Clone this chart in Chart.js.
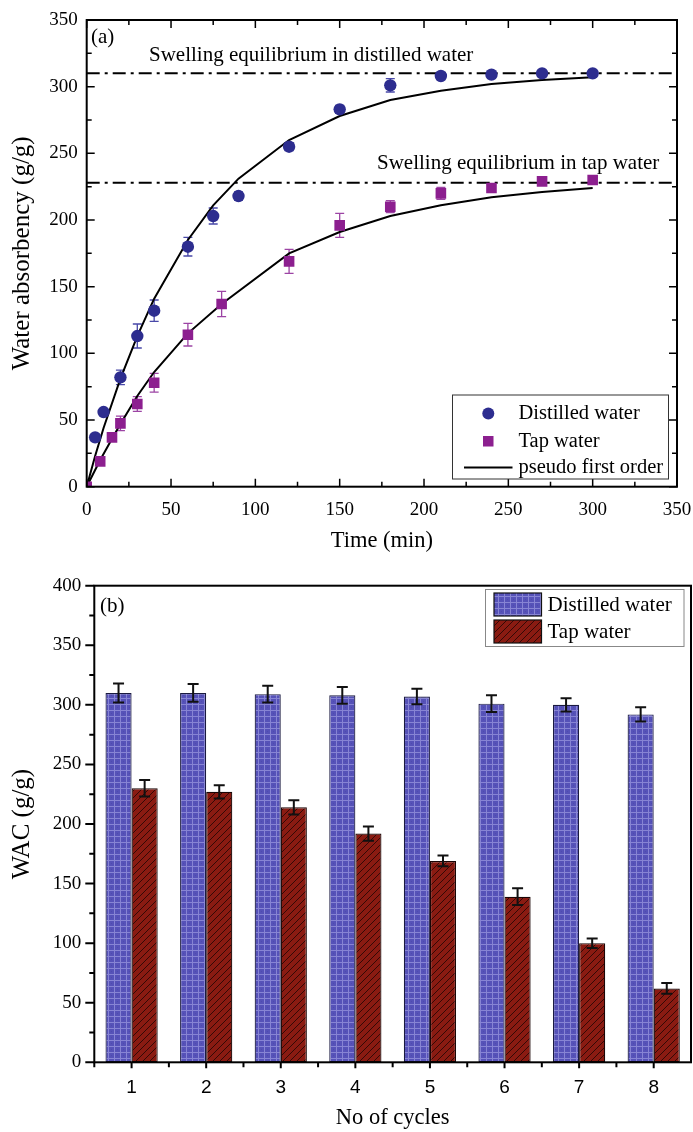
<!DOCTYPE html>
<html><head><meta charset="utf-8">
<script src="https://cdn.jsdelivr.net/npm/chart.js@4.4.1/dist/chart.umd.min.js"></script>
<style>
html,body{margin:0;padding:0;background:#fff;width:693px;height:1132px;overflow:hidden}
#w1{position:absolute;left:0;top:0;width:693px;height:560px}
#w2{position:absolute;left:0;top:560px;width:693px;height:572px}
</style></head><body>
<div id="w1"><canvas id="c1"></canvas></div>
<div id="w2"><canvas id="c2"></canvas></div>
<script>
// ---------- Panel (a) data ----------
const timeDistilled = [5, 10, 20, 30, 40, 60, 75, 90, 120, 150, 180, 210, 240, 270, 300];
const absDistilled  = [37, 56, 82, 113, 132, 180, 203, 218, 255, 283, 301, 308, 309, 310, 310];
const errDistilled  = [0, 0, 5.5, 9, 8, 7, 6, 3, 3, 3, 5, 2, 2, 2, 2];
const timeTap = [0, 8, 15, 20, 30, 40, 60, 80, 120, 150, 180, 210, 240, 270, 300];
const absTap  = [0, 19, 37, 47.5, 62, 78, 114, 137, 169, 196, 210, 220, 224, 229, 230];
const errTap  = [0, 0, 0, 5.5, 5.5, 7, 8.5, 9.5, 9, 9, 4.5, 4.5, 3, 2, 2];
const fitTimeDistilled = [0, 5, 10, 20, 30, 40, 60, 75, 90, 120, 150, 180, 210, 240, 270, 300];
const fitDistilled     = [0, 23, 44, 81, 113, 141, 185, 211, 231, 260, 278, 290, 297, 302, 305, 307];
const fitTimeTap = [0, 8, 15, 20, 30, 40, 60, 80, 120, 150, 180, 210, 240, 270, 300];
const fitTap     = [0, 20, 36, 47, 68, 86, 115, 137, 175, 191, 203, 211, 217, 221, 224];
const eqDistilled = 310;
const eqTap = 228;
const timeTicks = [0, 50, 100, 150, 200, 250, 300, 350];
const absTicks  = [0, 50, 100, 150, 200, 250, 300, 350];

// ---------- Panel (b) data ----------
const cycles = ['1', '2', '3', '4', '5', '6', '7', '8'];
const wacDistilled = [310, 310, 309, 308, 307, 301, 300, 292];
const wacDistErr   = [8, 7.5, 7, 7, 6.5, 7, 5.5, 6];
const wacTap       = [230, 227, 214, 192, 169, 139, 100, 62];
const wacTapErr    = [7, 5.5, 6, 6, 4.5, 7, 4, 4.5];
const wacTicks = [0, 50, 100, 150, 200, 250, 300, 350, 400];

const SERIF = '"Liberation Serif", "Times New Roman", serif';
const SANS = '"Liberation Sans", Arial, sans-serif';
const C_DIST = '#2d2d8f';
const C_TAP = '#8c1f8f';

function pts(xs, ys){ return xs.map((x,i)=>({x:x, y:ys[i]})); }

// ---------- patterns ----------
function bluePattern(){
  const c = document.createElement('canvas'); c.width = 6; c.height = 6;
  const g = c.getContext('2d');
  g.fillStyle = '#5652b8'; g.fillRect(0,0,6,6);
  g.fillStyle = '#8784d4'; g.fillRect(0,0,6,1); g.fillRect(0,0,1,6);
  g.fillStyle = '#4e4aae'; g.fillRect(3,3,1,1);
  return g.createPattern(c, 'repeat');
}
function redPattern(){
  const n = 7;
  const c = document.createElement('canvas'); c.width = n; c.height = n;
  const g = c.getContext('2d');
  g.fillStyle = '#8a1b12'; g.fillRect(0,0,n,n);
  g.strokeStyle = '#2a0806'; g.lineWidth = 0.9;
  g.beginPath();
  g.moveTo(-1,n+1); g.lineTo(n+1,-1);
  g.moveTo(-1,1); g.lineTo(1,-1);
  g.moveTo(n-1,n+1); g.lineTo(n+1,n-1);
  g.stroke();
  return g.createPattern(c, 'repeat');
}
const patBlue = bluePattern();
const patRed = redPattern();

// ---------- Panel (a) plugin ----------
const panelA = {
  id: 'panelA',
  beforeDatasetsDraw(chart){
    const ctx = chart.ctx, xs = chart.scales.x, ys = chart.scales.y;
    function eb(tx, vy, er, col){
      ctx.save(); ctx.strokeStyle = col; ctx.lineWidth = 1.3;
      for (let i=0;i<tx.length;i++){
        if (!er[i]) continue;
        const px = xs.getPixelForValue(tx[i]);
        const y1 = ys.getPixelForValue(vy[i]-er[i]);
        const y2 = ys.getPixelForValue(vy[i]+er[i]);
        ctx.beginPath();
        ctx.moveTo(px,y1); ctx.lineTo(px,y2);
        ctx.moveTo(px-4.5,y1); ctx.lineTo(px+4.5,y1);
        ctx.moveTo(px-4.5,y2); ctx.lineTo(px+4.5,y2);
        ctx.stroke();
      }
      ctx.restore();
    }
    eb(timeDistilled, absDistilled, errDistilled, '#4848a8');
    eb(timeTap, absTap, errTap, '#9c44a4');
  },
  afterDatasetsDraw(chart){
    const ctx = chart.ctx, a = chart.chartArea, xs = chart.scales.x, ys = chart.scales.y;
    ctx.save();
    // frame
    ctx.strokeStyle = '#000'; ctx.lineWidth = 2;
    ctx.strokeRect(a.left, a.top, a.right-a.left, a.bottom-a.top);
    // inward ticks on all four sides
    ctx.lineWidth = 1.5;
    ctx.beginPath();
    for (let v=0; v<=350; v+=25){
      const major = v % 50 === 0;
      const px = xs.getPixelForValue(v);
      const lx = major ? 8 : 5;
      ctx.moveTo(px, a.bottom); ctx.lineTo(px, a.bottom-lx);
      ctx.moveTo(px, a.top); ctx.lineTo(px, a.top+lx);
      const py = ys.getPixelForValue(v);
      ctx.moveTo(a.left, py); ctx.lineTo(a.left+lx, py);
      ctx.moveTo(a.right, py); ctx.lineTo(a.right-lx, py);
    }
    ctx.stroke();
    // texts
    ctx.fillStyle = '#000';
    ctx.font = '21px ' + SERIF;
    ctx.textBaseline = 'alphabetic';
    ctx.textAlign = 'left';
    ctx.fillText('(a)', 91, 43);
    ctx.fillText('Swelling equilibrium in distilled water', 149, 61);
    ctx.fillText('Swelling equilibrium in tap water', 377, 169);
    // legend
    ctx.lineWidth = 1; ctx.strokeStyle = '#333';
    ctx.fillStyle = '#fff';
    ctx.fillRect(452.5, 395, 216, 84);
    ctx.strokeRect(452.5, 395, 216, 84);
    ctx.fillStyle = C_DIST;
    ctx.beginPath(); ctx.arc(488.3, 413.5, 6, 0, Math.PI*2); ctx.fill();
    ctx.fillStyle = C_TAP;
    ctx.fillRect(483, 436, 10.5, 10.5);
    ctx.strokeStyle = '#000'; ctx.lineWidth = 2;
    ctx.beginPath(); ctx.moveTo(464, 467.5); ctx.lineTo(512.5, 467.5); ctx.stroke();
    ctx.fillStyle = '#000';
    ctx.font = '20.5px ' + SERIF;
    ctx.textBaseline = 'middle';
    ctx.fillText('Distilled water', 518.5, 414);
    ctx.fillText('Tap water', 518.5, 441.5);
    ctx.fillText('pseudo first order', 518.5, 468);
    ctx.restore();
  }
};

new Chart(document.getElementById('c1'), {
  type: 'scatter',
  data: {
    datasets: [
      { label: 'eqD', type: 'line', data: [{x:0,y:eqDistilled},{x:350,y:eqDistilled}],
        borderColor: '#000', borderWidth: 2, borderDash: [13,5,3,5], pointRadius: 0, fill: false, order: 5 },
      { label: 'eqT', type: 'line', data: [{x:0,y:eqTap},{x:350,y:eqTap}],
        borderColor: '#000', borderWidth: 2, borderDash: [13,5,3,5], pointRadius: 0, fill: false, order: 5 },
      { label: 'fitD', type: 'line', data: pts(fitTimeDistilled, fitDistilled),
        borderColor: '#000', borderWidth: 2, pointRadius: 0, tension: 0, fill: false, order: 4 },
      { label: 'fitT', type: 'line', data: pts(fitTimeTap, fitTap),
        borderColor: '#000', borderWidth: 2, pointRadius: 0, tension: 0, fill: false, order: 4 },
      { label: 'Distilled water', data: pts(timeDistilled, absDistilled),
        pointStyle: 'circle', pointRadius: 6.2, pointBackgroundColor: C_DIST, pointBorderColor: C_DIST, pointBorderWidth: 0, order: 1 },
      { label: 'Tap water', data: pts(timeTap, absTap),
        pointStyle: 'rect', pointRadius: 7.5, pointBackgroundColor: C_TAP, pointBorderColor: C_TAP, pointBorderWidth: 0, order: 1 }
    ]
  },
  options: {
    responsive: true, maintainAspectRatio: false, animation: false,
    layout: { padding: { top: 20, right: 16, left: 0, bottom: 0 } },
    plugins: { legend: { display: false }, tooltip: { enabled: false } },
    scales: {
      x: {
        type: 'linear', min: 0, max: 350,
        afterFit(s){ s.height = 73.3; s.paddingLeft = 0; s.paddingRight = 0; },
        afterBuildTicks(s){ s.ticks = timeTicks.map(v=>({value:v})); },
        grid: { display: false, drawTicks: false },
        border: { display: false },
        ticks: { font: { family: SERIF, size: 19 }, color: '#000', padding: 12, maxRotation: 0 },
        title: { display: true, text: 'Time (min)', font: { family: SERIF, size: 22.5 }, color: '#000', padding: { top: 0, bottom: 5 } }
      },
      y: {
        type: 'linear', min: 0, max: 350,
        afterFit(s){ s.width = 86.7; s.paddingTop = 0; s.paddingBottom = 0; },
        afterBuildTicks(s){ s.ticks = absTicks.map(v=>({value:v})); },
        grid: { display: false, drawTicks: false },
        border: { display: false },
        ticks: { font: { family: SERIF, size: 19 }, color: '#000', padding: 9 },
        title: { display: true, text: 'Water absorbency (g/g)', font: { family: SERIF, size: 25 }, color: '#000', padding: { top: 7, bottom: 0 } }
      }
    }
  },
  plugins: [panelA]
});

// ---------- Panel (b) plugin ----------
const panelB = {
  id: 'panelB',
  afterDatasetsDraw(chart){
    const ctx = chart.ctx, a = chart.chartArea, ys = chart.scales.y;
    ctx.save();
    // error bars
    ctx.strokeStyle = '#111'; ctx.lineWidth = 2;
    const sets = [[0, wacDistilled, wacDistErr], [1, wacTap, wacTapErr]];
    sets.forEach(([di, vals, errs]) => {
      const meta = chart.getDatasetMeta(di);
      meta.data.forEach((bar, i) => {
        const px = bar.x;
        const y1 = ys.getPixelForValue(vals[i]-errs[i]);
        const y2 = ys.getPixelForValue(vals[i]+errs[i]);
        ctx.beginPath();
        ctx.moveTo(px,y1); ctx.lineTo(px,y2);
        ctx.moveTo(px-5.5,y1); ctx.lineTo(px+5.5,y1);
        ctx.moveTo(px-5.5,y2); ctx.lineTo(px+5.5,y2);
        ctx.stroke();
      });
    });
    // frame
    ctx.strokeStyle = '#000'; ctx.lineWidth = 2;
    ctx.strokeRect(a.left, a.top, a.right-a.left, a.bottom-a.top);
    // outward ticks
    ctx.beginPath();
    for (let v=0; v<=400; v+=25){
      const py = ys.getPixelForValue(v);
      const l = v % 50 === 0 ? 9 : 5;
      ctx.moveTo(a.left, py); ctx.lineTo(a.left-l, py);
    }
    const xs = chart.scales.x;
    for (let i=0;i<cycles.length;i++){
      const px = xs.getPixelForValue(i);
      ctx.moveTo(px, a.bottom); ctx.lineTo(px, a.bottom+6);
      const pm = xs.getPixelForValue(i-0.5);
      ctx.moveTo(pm, a.bottom); ctx.lineTo(pm, a.bottom+5);
    }
    ctx.stroke();
    // label
    ctx.fillStyle = '#000';
    ctx.font = '21px ' + SERIF;
    ctx.textBaseline = 'alphabetic';
    ctx.fillText('(b)', 100, 52);
    // legend
    ctx.fillStyle = '#fff';
    ctx.fillRect(485.5, 29.5, 198.5, 57);
    ctx.strokeStyle = '#888'; ctx.lineWidth = 1;
    ctx.strokeRect(485.5, 29.5, 198.5, 57);
    ctx.fillStyle = patBlue; ctx.fillRect(494, 33, 47.5, 23);
    ctx.fillStyle = patRed; ctx.fillRect(494, 60, 47.5, 23);
    ctx.strokeStyle = '#111'; ctx.lineWidth = 1.2;
    ctx.strokeRect(494, 33, 47.5, 23);
    ctx.strokeRect(494, 60, 47.5, 23);
    ctx.fillStyle = '#000';
    ctx.font = '21px ' + SERIF;
    ctx.textBaseline = 'middle';
    ctx.fillText('Distilled water', 547.5, 45);
    ctx.fillText('Tap water', 547.5, 72.5);
    ctx.restore();
  }
};

new Chart(document.getElementById('c2'), {
  type: 'bar',
  data: {
    labels: cycles,
    datasets: [
      { label: 'Distilled water', data: wacDistilled, backgroundColor: patBlue, borderColor: '#1a1a40', borderWidth: 1.2, borderSkipped: false },
      { label: 'Tap water', data: wacTap, backgroundColor: patRed, borderColor: '#1a0505', borderWidth: 1.2, borderSkipped: false }
    ]
  },
  options: {
    responsive: true, maintainAspectRatio: false, animation: false,
    layout: { padding: { top: 25.7, right: 2, left: 0, bottom: 0 } },
    plugins: { legend: { display: false }, tooltip: { enabled: false } },
    datasets: { bar: { categoryPercentage: 0.7, barPercentage: 1.0 } },
    scales: {
      x: {
        offset: true,
        afterFit(s){ s.height = 69.7; },
        grid: { display: false, drawTicks: false },
        border: { display: false },
        ticks: { font: { family: SANS, size: 19 }, color: '#000', padding: 14, maxRotation: 0 },
        title: { display: true, text: 'No of cycles', font: { family: SERIF, size: 22.5 }, color: '#000', padding: { top: 0, bottom: 0 } }
      },
      y: {
        min: 0, max: 400,
        afterFit(s){ s.width = 94.3; },
        afterBuildTicks(s){ s.ticks = wacTicks.map(v=>({value:v})); },
        grid: { display: false, drawTicks: false },
        border: { display: false },
        ticks: { font: { family: SERIF, size: 19 }, color: '#000', padding: 13 },
        title: { display: true, text: 'WAC (g/g)', font: { family: SERIF, size: 25 }, color: '#000', padding: { top: 7, bottom: 0 } }
      }
    }
  },
  plugins: [panelB]
});
</script>
</body></html>
